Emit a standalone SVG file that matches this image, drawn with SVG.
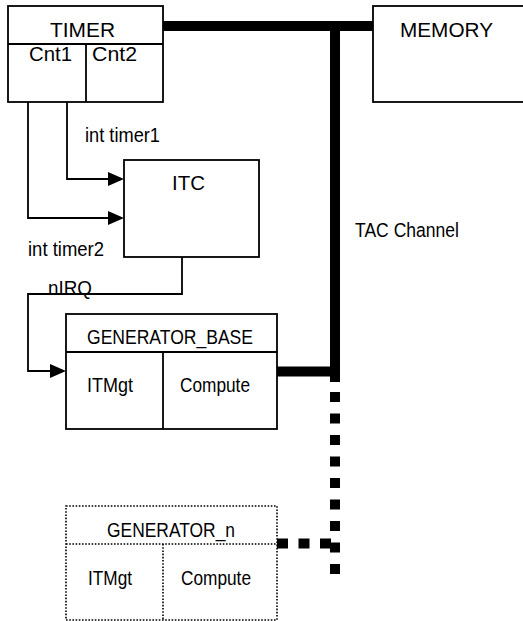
<svg xmlns="http://www.w3.org/2000/svg" width="523" height="621" viewBox="0 0 523 621">
<style>
.box{fill:#fff;stroke:#000;stroke-width:1.8}
.ln{fill:none;stroke:#000;stroke-width:1.8}
.dot{fill:none;stroke:#000;stroke-width:1.6;stroke-dasharray:1.6 1.6}
.bus{fill:none;stroke:#000;stroke-width:10}
.t{font-family:"Liberation Sans",Arial,sans-serif;font-size:20.5px;fill:#000}
.ah{fill:#000}
</style>
<rect width="523" height="621" fill="#fff"/>
<g id="connectors">
<line class="bus" x1="163" y1="26" x2="373" y2="26"/>
<line class="bus" x1="335" y1="21" x2="335" y2="382"/>
<line class="bus" x1="277" y1="371.5" x2="340" y2="371.5" stroke-width="9"/>
<line class="bus" x1="335" y1="392" x2="335" y2="575" stroke-dasharray="10 11.5"/>
<line class="bus" x1="277" y1="543.5" x2="332" y2="543.5" stroke-width="11" stroke-dasharray="11 10.5"/>
<polyline class="ln" points="67,102 67,179 110,179"/>
<polygon class="ah" points="124,179 108,172 108,186"/>
<polyline class="ln" points="28,102 28,218 110,218"/>
<polygon class="ah" points="124,218 108,211 108,225"/>
<polyline class="ln" points="182,257 182,294 28,294 28,371 52,371"/>
<polygon class="ah" points="66,371 50,364 50,378"/>
<text class="t" x="85" y="142" textLength="75" lengthAdjust="spacingAndGlyphs">int  timer1</text>
<text class="t" x="28" y="256" textLength="76" lengthAdjust="spacingAndGlyphs">int  timer2</text>
<text class="t" x="48" y="295" textLength="44" lengthAdjust="spacingAndGlyphs">nIRQ</text>
<text class="t" x="355" y="237" textLength="104" lengthAdjust="spacingAndGlyphs">TAC Channel</text>
</g>
<g id="timer">
<rect class="box" x="8" y="6" width="155" height="96"/>
<line class="ln" x1="8" y1="44" x2="163" y2="44"/>
<line class="ln" x1="86" y1="44" x2="86" y2="102"/>
<text class="t" x="50" y="37" textLength="65" lengthAdjust="spacingAndGlyphs">TIMER</text>
<text class="t" x="29" y="61" textLength="43" lengthAdjust="spacingAndGlyphs">Cnt1</text>
<text class="t" x="92" y="61" textLength="45" lengthAdjust="spacingAndGlyphs">Cnt2</text>
</g>
<g id="memory">
<rect class="box" x="373" y="6" width="160" height="96"/>
<text class="t" x="400" y="37" textLength="93" lengthAdjust="spacingAndGlyphs">MEMORY</text>
</g>
<g id="itc">
<rect class="box" x="124" y="160" width="135" height="97"/>
<text class="t" x="172" y="190" textLength="33" lengthAdjust="spacingAndGlyphs">ITC</text>
</g>
<g id="generator_base">
<rect class="box" x="66" y="314" width="211" height="115"/>
<line class="ln" x1="66" y1="352" x2="277" y2="352"/>
<line class="ln" x1="163" y1="352" x2="163" y2="429"/>
<text class="t" x="87" y="344" textLength="166" lengthAdjust="spacingAndGlyphs">GENERATOR_BASE</text>
<text class="t" x="87" y="392" textLength="46" lengthAdjust="spacingAndGlyphs">ITMgt</text>
<text class="t" x="180" y="392" textLength="70" lengthAdjust="spacingAndGlyphs">Compute</text>
</g>
<g id="generator_n">
<rect class="dot" x="66" y="506" width="211" height="114"/>
<line class="dot" x1="66" y1="544" x2="277" y2="544"/>
<line class="dot" x1="163" y1="544" x2="163" y2="620"/>
<text class="t" x="107" y="537" textLength="128" lengthAdjust="spacingAndGlyphs">GENERATOR_n</text>
<text class="t" x="88" y="585" textLength="44" lengthAdjust="spacingAndGlyphs">ITMgt</text>
<text class="t" x="181" y="585" textLength="70" lengthAdjust="spacingAndGlyphs">Compute</text>
</g>
</svg>
